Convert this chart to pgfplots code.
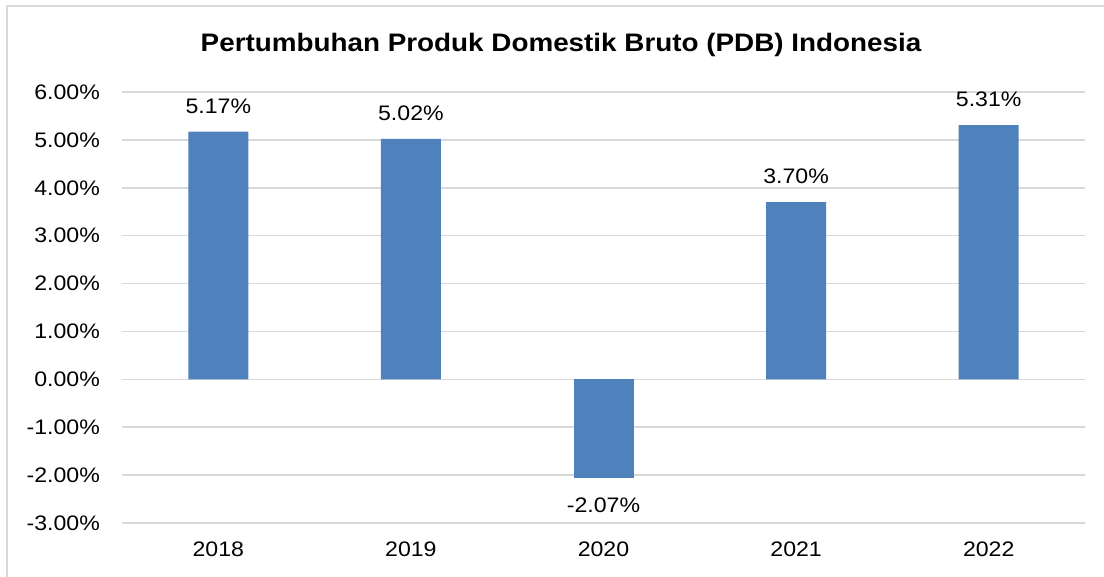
\documentclass[border=0pt]{standalone}
\usepackage{pgfplots}
\pgfplotsset{compat=1.18}
\usepackage{fontspec}
\setmainfont[FakeStretch=1.1]{Liberation Sans}
\definecolor{barblue}{HTML}{4F81BD}
\definecolor{gridgray}{HTML}{D9D9D9}
\begin{document}
\begin{tikzpicture}
\useasboundingbox (0bp,0bp) rectangle (1104bp,577bp);
\draw[gridgray,line width=2bp] (7bp,0bp) -- (7bp,571bp) -- (1104bp,571bp);
\node[font=\fontsize{25.3bp}{29bp}\selectfont\bfseries] at (561bp,532bp) {Pertumbuhan Produk Domestik Bruto (PDB) Indonesia};
\begin{axis}[
  at={(122bp,54bp)}, anchor=south west,
  width=963bp, height=431bp, scale only axis,
  xmin=-0.5, xmax=4.5, ymin=-3, ymax=6,
  ytick={-3,-2,-1,0,1,2,3,4,5,6},
  xtick={0,1,2,3,4},
  xticklabels={2018,2019,2020,2021,2022},
  axis line style={draw=none},
  major tick length=0pt,
  ymajorgrids, grid style={gridgray,line width=1.5bp},
  /pgf/number format/assume math mode=true,
  yticklabel={\pgfmathprintnumber[fixed,fixed zerofill,precision=2]{\tick}\%},
  y tick label style={font=\fontsize{21bp}{25bp}\selectfont, inner sep=0pt, anchor=east, xshift=-22bp},
  x tick label style={font=\fontsize{21bp}{25bp}\selectfont, inner sep=0pt, anchor=north, yshift=-19bp},
  ybar, bar width=60bp, bar shift=0pt,
  nodes near coords={\pgfmathprintnumber[fixed,fixed zerofill,precision=2]{\pgfplotspointmeta}\%},
  every node near coord/.append style={font=\fontsize{21bp}{25bp}\selectfont, text=black, inner sep=0pt},
  clip=false,
]
\addplot[fill=barblue, draw=none, every node near coord/.append style={yshift=18bp}]
  coordinates {(0,5.17) (1,5.02) (3,3.70) (4,5.31)};
\addplot[fill=barblue, draw=none, every node near coord/.append style={yshift=-19bp}]
  coordinates {(2,-2.07)};
\end{axis}
\end{tikzpicture}
\end{document}
